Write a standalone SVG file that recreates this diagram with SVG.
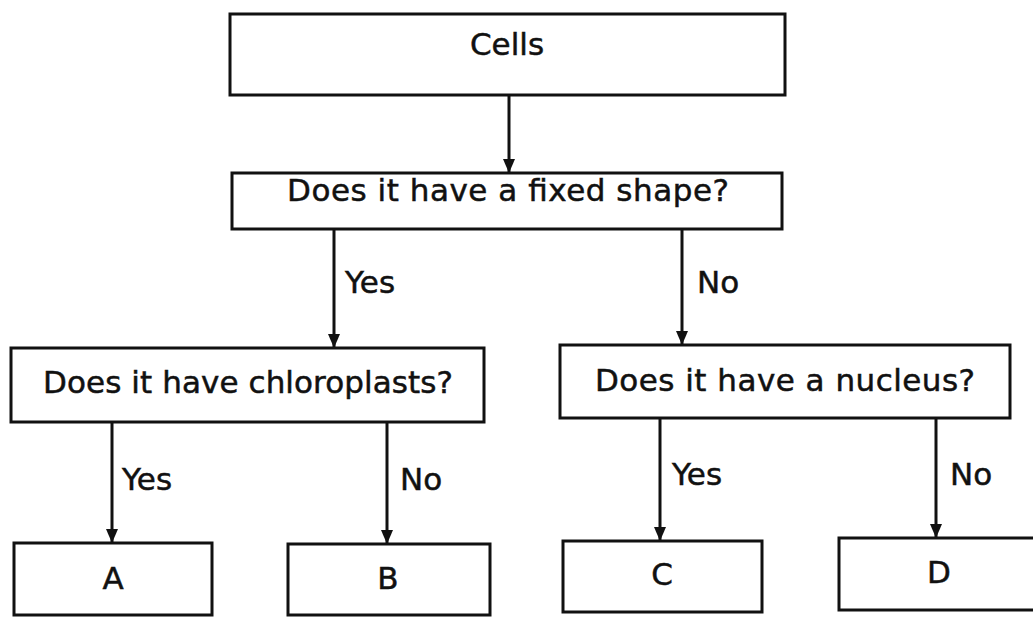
<svg xmlns="http://www.w3.org/2000/svg" width="1033" height="617" viewBox="0 0 1033 617">
  <style>
    .box { fill: #ffffff; stroke: #111111; stroke-width: 3; }
    .lbl { font-family: "DejaVu Sans", "Liberation Sans", sans-serif; font-size: 31px; fill: #111111; stroke: #111111; stroke-width: 0.5; }
    .mid { text-anchor: middle; }
    .edge { stroke: #111111; stroke-width: 3; fill: none; marker-end: url(#arrow); }
  </style>
  <defs>
    <!-- filled triangular arrowhead, tip at the end of the line -->
    <marker id="arrow" viewBox="0 0 14 12" refX="14" refY="6" markerWidth="14" markerHeight="12" markerUnits="userSpaceOnUse" orient="auto">
      <path d="M0,0 L14,6 L0,12 Z" fill="#111111"/>
    </marker>
  </defs>
  <rect width="1033" height="617" fill="#ffffff"/>

  <g id="connectors">
    <line class="edge" x1="509" y1="95" x2="509" y2="173"/>
    <line class="edge" x1="334" y1="229" x2="334" y2="348"/>
    <line class="edge" x1="682" y1="229" x2="682" y2="345"/>
    <line class="edge" x1="112" y1="422" x2="112" y2="543"/>
    <line class="edge" x1="387" y1="422" x2="387" y2="544"/>
    <line class="edge" x1="660" y1="418" x2="660" y2="541"/>
    <line class="edge" x1="936" y1="418" x2="936" y2="538"/>
    <text class="lbl" x="345" y="293">Yes</text>
    <text class="lbl" x="697" y="293">No</text>
    <text class="lbl" x="122" y="490">Yes</text>
    <text class="lbl" x="400" y="490">No</text>
    <text class="lbl" x="672" y="485">Yes</text>
    <text class="lbl" x="950" y="485">No</text>
  </g>

  <g id="cells">
    <rect class="box" x="230" y="14" width="555" height="81"/>
    <text class="lbl mid" x="507" y="55">Cells</text>
  </g>
  <g id="fixed-shape">
    <rect class="box" x="232" y="173" width="550" height="56"/>
    <text class="lbl mid" x="508" y="201" textLength="442" lengthAdjust="spacing">Does it have a fixed shape?</text>
  </g>
  <g id="chloroplasts">
    <rect class="box" x="11" y="348" width="473" height="74"/>
    <text class="lbl mid" x="248" y="393" textLength="410" lengthAdjust="spacing">Does it have chloroplasts?</text>
  </g>
  <g id="nucleus">
    <rect class="box" x="560" y="345" width="450" height="73"/>
    <text class="lbl mid" x="785" y="391" textLength="380" lengthAdjust="spacing">Does it have a nucleus?</text>
  </g>
  <g id="node-a">
    <rect class="box" x="14" y="543" width="198" height="72"/>
    <text class="lbl mid" x="113" y="589">A</text>
  </g>
  <g id="node-b">
    <rect class="box" x="288" y="544" width="202" height="71"/>
    <text class="lbl mid" x="388" y="589">B</text>
  </g>
  <g id="node-c">
    <rect class="box" x="563" y="541" width="199" height="71"/>
    <text class="lbl mid" x="662" y="585">C</text>
  </g>
  <g id="node-d">
    <rect class="box" x="839" y="538" width="210" height="72"/>
    <text class="lbl mid" x="939" y="583">D</text>
  </g>
</svg>
